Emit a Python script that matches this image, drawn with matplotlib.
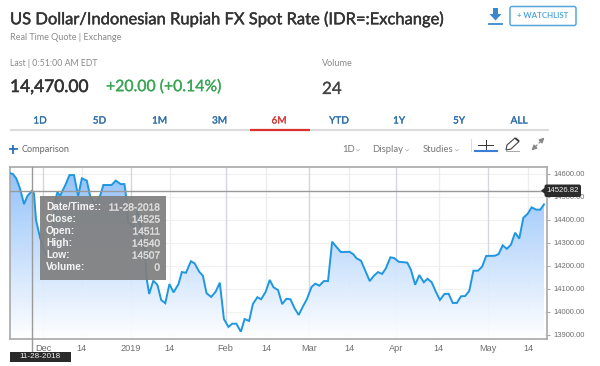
import numpy as np
import matplotlib
matplotlib.use('Agg')
import matplotlib.pyplot as plt
import matplotlib.patheffects as pe
from matplotlib.patches import FancyBboxPatch, Polygon, Rectangle
from matplotlib.colors import LinearSegmentedColormap

# chart data
sessions = [0, .7, 1.5, 2.4, 3.4, 4.2, 5.3, 5.8, 6.3, 7.3, 8.2, 9.2, 10.2, 11.1, 11.5, 12.1, 13.4, 14.4, 15.5,
            16.5, 17.4, 18.6, 19.4, 20.6, 21.8, 22.6, 24.6, 25.6, 26.8, 27.7, 28.1, 28.6, 29.8, 30.8, 31.7, 32.7,
            33.1, 33.7, 34.7, 35.7, 36.6, 37.6, 38.6, 39.6, 40.8, 41.6, 42.6, 43.8, 44.7, 45.8, 46.7, 47.6, 48.7,
            49.8, 50.8, 51.8, 52.9, 53.8, 54.8, 55.9, 56.8, 57.9, 58.8, 59.9, 60.8, 61.9, 62.9, 63.8, 64.9, 65.9,
            66.9, 67.9, 68.9, 69.9, 70.9, 71.9, 73.0, 73.9, 74.9, 76.0, 77.0, 78.0, 79.0, 80.1, 82.2, 83.1, 83.9,
            85.0, 87.1, 88.1, 89.1, 90.1, 91.0, 92.1, 93.0, 94.1, 96.2, 97.1, 98.1, 99.1, 100.2, 101.1, 102.1,
            103.1, 104.1, 105.2, 106.2, 107.2, 108.2, 109.2, 110.2, 111.2, 112.2, 113.3, 114.3, 115.3, 117.4,
            118.3, 119.3, 120.3, 121.3, 122.3, 123.3, 124.3, 125.3, 126.3, 127.4, 128.4, 129.3]
rate = [14602, 14599, 14580, 14537, 14468, 14503, 14525, 14515, 14399, 14321, 14269, 14234, 14312, 14495, 14521,
        14503, 14551, 14594, 14594, 14503, 14580, 14570, 14503, 14464, 14503, 14551, 14551, 14570, 14555, 14555,
        14503, 14390, 14369, 14442, 14364, 14269, 14143, 14078, 14136, 14117, 14052, 14038, 14121, 14085, 14121,
        14173, 14170, 14220, 14211, 14175, 14157, 14081, 14065, 14088, 14127, 13969, 13935, 13949, 13949, 13914,
        13969, 13961, 14034, 14064, 14055, 14087, 14139, 14107, 14095, 14034, 14057, 14055, 14016, 13987, 14023,
        14056, 14108, 14123, 14114, 14134, 14134, 14305, 14283, 14260, 14261, 14251, 14233, 14222, 14134, 14157,
        14173, 14165, 14189, 14237, 14234, 14218, 14214, 14182, 14118, 14160, 14129, 14144, 14129, 14088, 14052,
        14078, 14079, 14039, 14039, 14068, 14069, 14091, 14179, 14179, 14196, 14243, 14244, 14251, 14289, 14274,
        14292, 14344, 14318, 14409, 14425, 14454, 14444, 14444, 14467]
month_ticks = [8.1, 29.2, 52.2, 72.5, 93.5, 115.8]
month_labels = ['Dec', '2019', 'Feb', 'Mar', 'Apr', 'May']
mid_ticks = [17.4, 38.7, 62.0, 82.2, 103.8, 125.5]
y_ticks = [13900, 14000, 14100, 14200, 14300, 14400, 14500, 14600]
cursor_session = 5.4
cursor_rate = 14526.82
tooltip_names = ['Date/Time::', 'Close:', 'Open:', 'High:', 'Low:', 'Volume:']
tooltip_values = ['11-28-2018', '14525', '14511', '14540', '14507', '0']
tabs = ['1D', '5D', '1M', '3M', '6M', 'YTD', '1Y', '5Y', 'ALL']

W, H = 600, 366
HEAD = ['Lato', 'DejaVu Sans']
ARIAL = ['Liberation Sans', 'DejaVu Sans']
GREY = '#8a8a8a'
BLUE = '#3a87d0'
TAB = '#2f6fa8'

fig = plt.figure(figsize=(6, 3.66), dpi=100)

# price chart
ax = fig.add_axes([10 / W, 1 - 339 / H, (546.9 - 10) / W, (339 - 166.7) / H])
ax.set_xlim(0, 130)
ax.set_ylim(13882.6, 14630.4)
for s in ax.spines.values():
    s.set_color('#a8a8a8')
    s.set_linewidth(1.2)

for t in y_ticks:
    ax.axhline(t, color='#f1f1f1', lw=0.8, zorder=1)
for t in month_ticks:
    ax.axvline(t, color='#d4d8dc', lw=1.0, zorder=1)
for t in mid_ticks:
    ax.axvline(t, color='#ebeef0', lw=1.0, zorder=1)

cmap = LinearSegmentedColormap.from_list('fade', ['#ffffff', '#8fc0fa'])
grad = ax.imshow(np.linspace(1, 0, 256).reshape(-1, 1), extent=[0, 130, 13882.6, max(rate)], aspect='auto',
                 cmap=cmap, alpha=0.95, zorder=2, vmin=0, vmax=1)
area = ax.fill_between(sessions, rate, 13882.6, color='none')
grad.set_clip_path(area.get_paths()[0], transform=ax.transData)
ax.set_xlim(0, 130)
ax.set_ylim(13882.6, 14630.4)
ax.plot(sessions, rate, color='#1f97e0', lw=1.4, zorder=3, solid_joinstyle='miter')

ax.axvline(cursor_session, ymin=-0.07, ymax=1, color='#9a9a9a', lw=1.0, zorder=4, clip_on=False)
ax.axhline(cursor_rate, color='#9a9a9a', lw=1.0, zorder=4)

ax.set_xticks(month_ticks + mid_ticks)
ax.set_xticklabels(month_labels + ['14'] * len(mid_ticks), family=ARIAL, fontsize=6.6, color='#6e6e6e')
ax.tick_params(axis='x', length=0, pad=3.5)
ax.yaxis.tick_right()
ax.set_yticks(y_ticks)
ax.set_yticklabels([f'{t:.2f}' for t in y_ticks], family=ARIAL, fontsize=5.5, color='#6e6e6e')
ax.tick_params(axis='y', length=2, color='#a8a8a8', pad=2.5)

# page furniture in pixel coordinates on a full size overlay
ui = fig.add_axes([0, 0, 1, 1], facecolor='none', zorder=5)
ui.set_xlim(0, W)
ui.set_ylim(H, 0)
ui.axis('off')


def label(x, y, s, size, color='#333333', ha='left', weight='normal', family=HEAD, heavy=0):
    t = ui.text(x, y, s, fontsize=size, color=color, ha=ha, va='center', fontweight=weight, family=family)
    if heavy:
        t.set_path_effects([pe.withStroke(linewidth=heavy, foreground=color)])


label(10, 19, 'US Dollar/Indonesian Rupiah FX Spot Rate (IDR=:Exchange)', 11.9, '#333333', heavy=0.3)
label(10, 38, 'Real Time Quote | Exchange', 6.5, GREY)
label(10, 63, 'Last | 0:51:00 AM EDT', 6.3, GREY)
label(10, 87, '14,470.00', 12.5, '#333333', heavy=0.4)
label(106, 87, '+20.00 (+0.14%)', 11.4, '#3aa655', heavy=0.2)
label(322, 64, 'Volume', 6.6, GREY)
label(322, 89, '24', 12.2, '#444444', heavy=0.2)

# download button and watchlist
ui.add_patch(Polygon([[493, 8], [498, 8], [498, 14], [501.5, 14], [495.5, 20.5], [489.5, 14], [493, 14]],
                     color=BLUE, lw=0))
ui.plot([488.5, 502], [23.5, 23.5], color=BLUE, lw=1.3)
ui.add_patch(FancyBboxPatch((510, 6.5), 66, 19, boxstyle='round,pad=0,rounding_size=2', fc='white', ec='#58a6de', lw=1.1))
label(543, 16, '+ WATCHLIST', 5.7, '#58a6de', ha='center', weight='bold')

# range tabs
tab_x = [40, 99.5, 159.5, 219.5, 279, 339, 399, 459, 519]
for name, x in zip(tabs, tab_x):
    label(x, 121, name, 7.2, '#d13a3a' if name == '6M' else TAB, ha='center', heavy=0.2)
ui.plot([10, 549], [129.5, 129.5], color='#dcdcdc', lw=1.5, solid_capstyle='butt')
ui.plot([249.5, 310], [129.5, 129.5], color='#d8322f', lw=1.6, solid_capstyle='butt')

# toolbar
ui.plot([9.5, 16.5], [149, 149], color='#2a6fc0', lw=1.3)
ui.plot([13, 13], [145.5, 152.5], color='#2a6fc0', lw=1.3)
label(22, 150, 'Comparison', 6.6, '#666666')
for s, x, w in [('1D', 342.5, 10), ('Display', 372.5, 29), ('Studies', 422.5, 29)]:
    label(x, 149, s, 6.8, '#777777')
    ui.plot([x + w + 4, x + w + 5.5, x + w + 7], [149.5, 151, 149.5], color='#bbbbbb', lw=0.6)
ui.plot([470.5, 470.5], [139, 151], color='#dddddd', lw=0.8)
ui.plot([474.5, 497], [150.5, 150.5], color='#3a7fd5', lw=1.5)
ui.plot([478, 493], [145, 145], color='#333333', lw=0.7)
ui.plot([486, 486], [139.5, 148.5], color='#333333', lw=0.7)
ui.add_patch(Polygon([[506, 150], [507, 145], [515, 138], [519, 141.5], [511, 149]], fc='white', ec='#444444', lw=0.8))
ui.add_patch(Polygon([[514.5, 138.5], [516, 137.5], [519.5, 140.5], [518.5, 142]], color='#333333', lw=0))
ui.plot([506, 519], [151, 151], color='#999999', lw=0.6)
ui.annotate('', xy=(531.5, 150.5), xytext=(537, 145), arrowprops=dict(arrowstyle='-|>,head_width=.15,head_length=.3', color='#888888', lw=0.9, shrinkA=0, shrinkB=0))
ui.annotate('', xy=(544.5, 137.5), xytext=(539, 143), arrowprops=dict(arrowstyle='-|>,head_width=.15,head_length=.3', color='#888888', lw=0.9, shrinkA=0, shrinkB=0))

# tooltip
ui.add_patch(Rectangle((40, 196), 126, 83.5, fc='#7f7f7f', ec='none', alpha=0.93))
for i, (n, v) in enumerate(zip(tooltip_names, tooltip_values)):
    y = 207.5 + i * 12
    label(46, y, n, 7.3, '#f4f4f4', weight='bold', family=ARIAL)
    label(160, y, v, 7.3, '#dcdcdc', ha='right', family=ARIAL, heavy=0.2)

# cursor labels
ui.add_patch(Rectangle((10, 351.5), 61, 10, fc='#2b2b2b', ec='none'))
label(40.5, 356.5, tooltip_values[0], 5.9, '#f0f0f0', ha='center', family=ARIAL)
ui.add_patch(FancyBboxPatch((544.5, 184.5), 36.5, 12.5, boxstyle='round,pad=0,rounding_size=2', fc='#2b2b2b', ec='none'))
ui.add_patch(Polygon([[541, 190.7], [545, 187.5], [545, 194]], color='#2b2b2b', lw=0))
label(563, 191, f'{cursor_rate:.2f}', 5.6, '#f0f0f0', ha='center', family=ARIAL)

fig.savefig('out.png', dpi=100)
